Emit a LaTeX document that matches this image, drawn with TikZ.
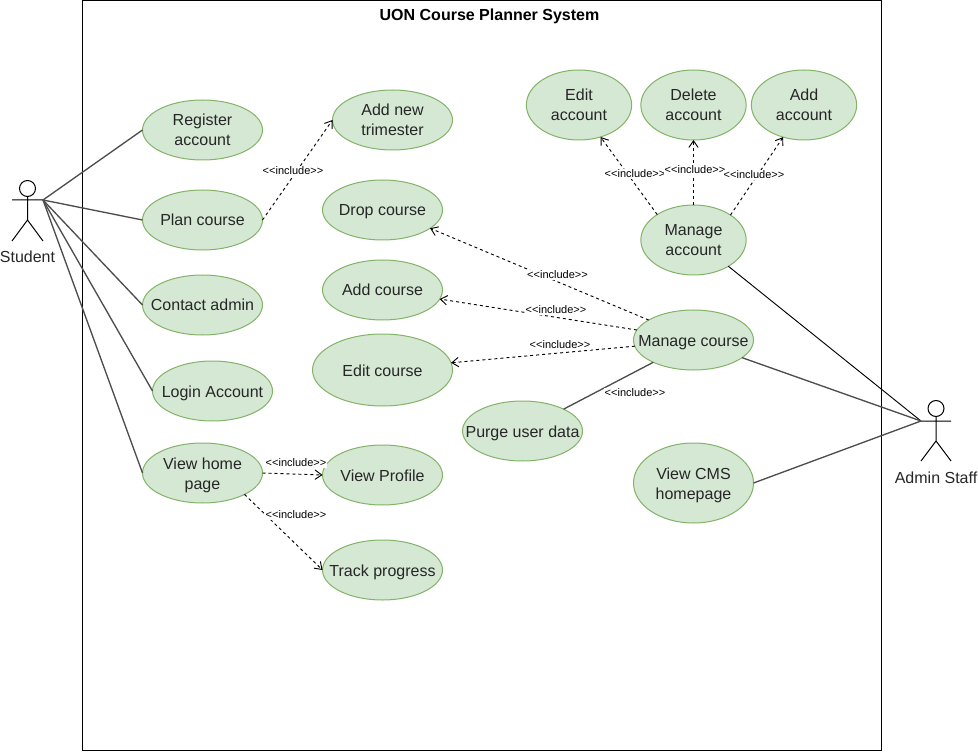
\documentclass[tikz,border=0pt]{standalone}
\usepackage{fontspec}
\setmainfont{Liberation Sans}
\usetikzlibrary{shapes.geometric,arrows.meta}
\definecolor{ucfill}{HTML}{D5E8D4}
\definecolor{ucline}{HTML}{82B366}
\definecolor{assoc}{HTML}{4D4D4D}
\newcommand{\ct}[1]{\makebox[0pt]{\raisebox{-4.5pt}[0pt][0pt]{\begin{tabular}{@{}c@{}}#1\end{tabular}}}}
\tikzset{
  uc/.style={ellipse,draw=ucline,fill=ucfill,line width=0.75pt,inner sep=0pt,outer sep=0pt,
    minimum width=90pt,minimum height=45pt,font=\fontsize{12}{15}\selectfont,text=black!85},
  ucm/.style={uc,minimum width=79pt,minimum height=52.5pt},
  actorline/.style={draw=black,line width=0.75pt},
  actorlabel/.style={font=\fontsize{12}{15}\selectfont,text=black!85,inner sep=0pt},
  assocline/.style={draw=assoc,line width=1pt},
  blackline/.style={draw=black,line width=0.7pt},
  incl/.style={draw=black,line width=0.7pt,dash pattern=on 2.25pt off 2.25pt,-{Straight Barb[length=5pt,width=7pt,line width=0.7pt]}},
  incllabel/.style={fill=white,font=\fontsize{8.25}{10}\selectfont,inner sep=0.5pt,text=black}
}
\begin{document}
\begin{tikzpicture}[x=0.75pt,y=-0.75pt]
\useasboundingbox (0,0) rectangle (978,752);
\node[draw=black,line width=0.75pt,minimum width=599.5pt,minimum height=563pt,inner sep=0pt,outer sep=0pt] (sys) at (482,375.5) {};
\node[font=\bfseries\fontsize{12}{15}\selectfont,inner sep=0pt] (title) at (489.5,16) {UON Course Planner System};

% use cases
\node[uc] (reg) at (202.5,130) {\ct{Register\\account}};
\node[uc] (plan) at (202.5,220) {\ct{Plan course}};
\node[uc] (contact) at (202.5,305) {\ct{Contact admin}};
\node[uc] (login) at (212.5,391) {\ct{Login Account}};
\node[uc] (home) at (202.5,473) {\ct{View home\\page}};
\node[uc] (tri) at (392.5,120) {\ct{Add new\\trimester}};
\node[uc] (drop) at (382.5,210) {\ct{Drop course}};
\node[uc] (addc) at (382.5,290) {\ct{Add course}};
\node[uc,minimum width=105pt,minimum height=54pt] (editc) at (382.5,370) {\ct{Edit course}};
\node[uc] (prof) at (382.5,475) {\ct{View Profile}};
\node[uc] (track) at (382.5,570) {\ct{Track progress}};
\node[uc] (purge) at (522.5,431) {\ct{Purge user data}};
\node[uc] (mc) at (693.5,340) {\ct{Manage course}};
\node[uc,minimum height=60pt] (cms) at (693.5,483) {\ct{View CMS\\homepage}};
\node[ucm] (ma) at (693.5,240) {\ct{Manage\\account}};
\node[ucm] (edita) at (579,105) {\ct{Edit\\account}};
\node[ucm] (dela) at (693.5,105) {\ct{Delete\\account}};
\node[ucm] (adda) at (804,105) {\ct{Add\\account}};

% student actor
\node[circle,actorline,minimum size=12pt,inner sep=0pt,outer sep=0pt] (shead) at (27.5,188.5) {};
\coordinate (shandl) at (12,200);
\coordinate (shandr) at (43,200);
\coordinate (ship) at (27.5,220);
\coordinate (sfootl) at (12,241);
\coordinate (sfootr) at (43,241);
\draw[actorline] (shead.south) -- (ship) (shandl) -- (shandr) (sfootl) -- (ship) -- (sfootr);
\node[actorlabel] (slabel) at (27.5,257) {Student};

% admin actor
\node[circle,actorline,minimum size=12pt,inner sep=0pt,outer sep=0pt] (ahead) at (936,408.5) {};
\coordinate (ahandl) at (921,421);
\coordinate (ahandr) at (951,421);
\coordinate (ahip) at (936,441);
\coordinate (afootl) at (921,461);
\coordinate (afootr) at (951,461);
\draw[actorline] (ahead.south) -- (ahip) (ahandl) -- (ahandr) (afootl) -- (ahip) -- (afootr);
\node[actorlabel] (alabel) at (936,478) {Admin Staff};

% associations
\draw[assocline] (shandr) -- (reg.west);
\draw[assocline] (shandr) -- (plan.west);
\draw[assocline] (shandr) -- (contact.west);
\draw[assocline] (shandr) -- (login.west);
\draw[assocline] (shandr) -- (home.west);
\draw[blackline] (ma.-37) -- (ahandl);
\draw[assocline] (mc.-20) -- (ahandl);
\draw[assocline] (cms.east) -- (ahandl);
\draw[assocline] (mc.209) -- (purge.28);

% includes
\draw[incl] (plan.east) -- (tri.west);
\draw[incl] (home.east) -- (prof.west);
\draw[incl] (home.-27.6) -- (track.west);
\draw[incl] (mc.156) -- (drop.-21);
\draw[incl] (mc.170) -- (addc.-9);
\draw[incl] (mc.186) -- (editc.6);
\draw[incl] (ma.145) -- (edita.-56);
\draw[incl] (ma.north) -- (dela.south);
\draw[incl] (ma.34) -- (adda.237.5);

% labels
\node[incllabel] (l1) at (293,171) {<{}<include>{}>};
\node[incllabel] (l2) at (296,463) {<{}<include>{}>};
\node[incllabel] (l3) at (296,515) {<{}<include>{}>};
\node[incllabel] (l4) at (557.5,275) {<{}<include>{}>};
\node[incllabel] (l5) at (556,310) {<{}<include>{}>};
\node[incllabel] (l6) at (560,345) {<{}<include>{}>};
\node[incllabel] (l7) at (635,393) {<{}<include>{}>};
\node[incllabel] (l8) at (635,174) {<{}<include>{}>};
\node[incllabel] (l9) at (695,170) {<{}<include>{}>};
\node[incllabel] (l10) at (754,175) {<{}<include>{}>};
\end{tikzpicture}
\end{document}
